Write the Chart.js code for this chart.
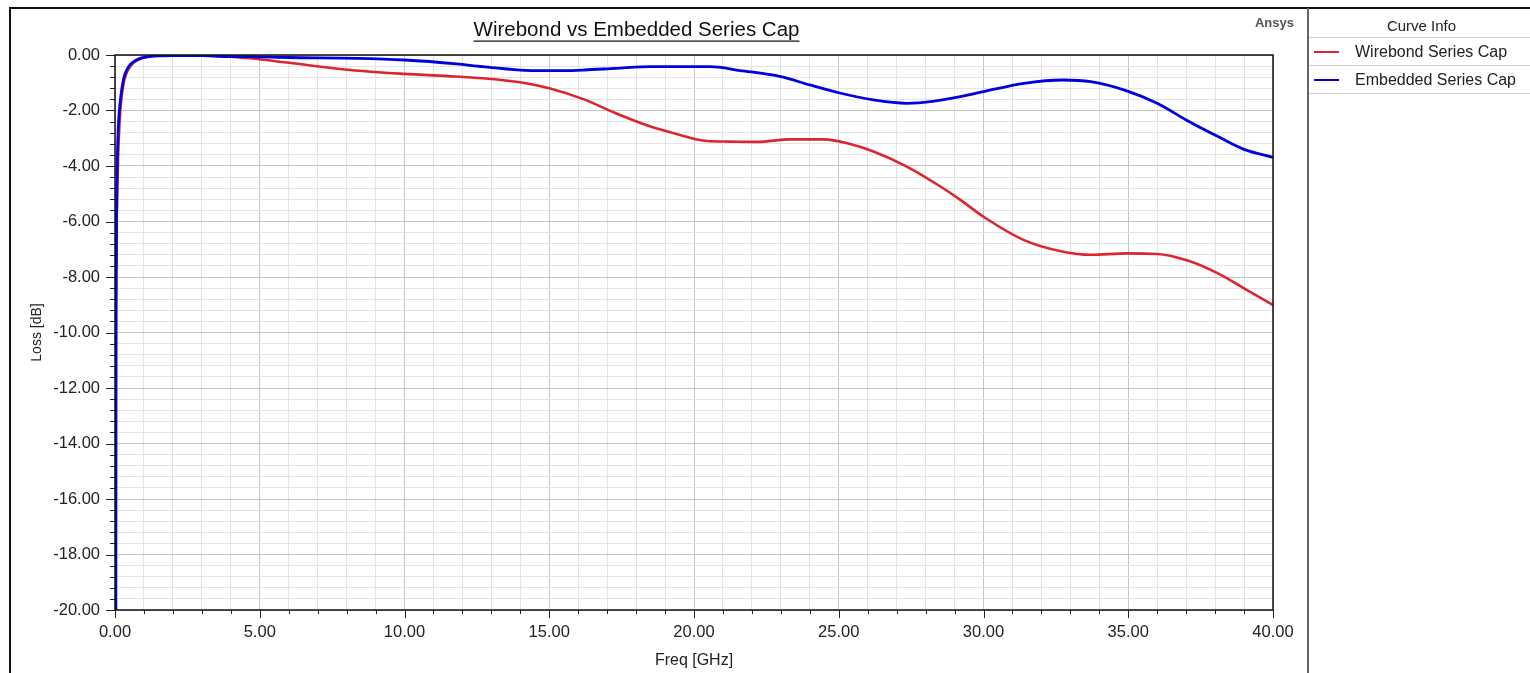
<!DOCTYPE html>
<html>
<head>
<meta charset="utf-8">
<script src="https://cdn.jsdelivr.net/npm/chart.js@4.4.1/dist/chart.umd.min.js"></script>
<style>
  html,body{margin:0;padding:0;background:#fff;width:1530px;height:673px;overflow:hidden;font-family:"Liberation Sans",Arial,sans-serif;}
  #wrap{position:absolute;left:0;top:0;width:1308px;height:673px;}
  #frame{position:absolute;left:9px;top:7px;width:1521px;height:670px;border-top:2px solid #111;border-left:2px solid #111;box-sizing:border-box;}
  #legend{position:absolute;left:1307px;top:8px;width:223px;height:665px;border-left:2px solid #666;box-sizing:border-box;}
  .hdr{position:absolute;left:0;top:9px;width:225px;text-align:center;font-size:15px;color:#222;}
  .sep{position:absolute;left:0;width:223px;height:1px;background:#d0d0d0;}
  .sw{position:absolute;left:5px;width:25px;height:2px;}
  .lt{position:absolute;left:46px;font-size:16px;color:#222;white-space:nowrap;}
  #ansys{position:absolute;left:1230px;top:15px;width:64px;text-align:right;font-weight:bold;font-size:13px;color:#555;}
</style>
</head>
<body>
<div id="wrap"><canvas id="c" width="1308" height="673"></canvas></div>
<div id="frame"></div>
<div id="ansys">Ansys</div>
<div id="legend">
  <div class="hdr">Curve Info</div>
  <div class="sep" style="top:29px"></div>
  <div class="sw" style="top:43px;background:#dd2530"></div>
  <div class="lt" style="top:35px">Wirebond Series Cap</div>
  <div class="sep" style="top:57px"></div>
  <div class="sw" style="top:71px;background:#0000e0"></div>
  <div class="lt" style="top:63px">Embedded Series Cap</div>
  <div class="sep" style="top:85px"></div>
</div>
<script>
const chartTitle = "Wirebond vs Embedded Series Cap";
const xAxisTitle = "Freq [GHz]";
const yAxisTitle = "Loss [dB]";
const seriesNames = ["Wirebond Series Cap", "Embedded Series Cap"];

const freqWirebond = [0.04,0.06,0.08,0.11,0.15,0.2,0.3,0.4,0.5,0.62,0.8,1.1,1.5,2,3,4,4.66,6,8.12,10,11.5,12.7,14.1,15,16.2,17.3,18.5,19.3,20.45,21.2,22.2,23.3,24.5,25.3,26.2,27.35,28.5,29.2,30,31.4,32.75,33.7,34.95,36,37,38.1,39,40];
const lossWirebond = [-7.7,-5.8,-4.8,-3.6,-2.6,-1.8,-1.0,-0.65,-0.45,-0.3,-0.17,-0.07,-0.01,0,-0.01,-0.06,-0.12,-0.28,-0.54,-0.68,-0.76,-0.84,-1.0,-1.2,-1.6,-2.1,-2.58,-2.82,-3.1,-3.12,-3.13,-3.04,-3.04,-3.18,-3.48,-4.02,-4.73,-5.22,-5.83,-6.67,-7.09,-7.2,-7.15,-7.17,-7.39,-7.87,-8.41,-9.01];

const freqEmbedded = [0.03,0.035,0.04,0.055,0.08,0.11,0.15,0.2,0.3,0.4,0.5,0.62,0.8,1.1,1.5,2,3,3.5,4.66,6,8.35,10,11.8,12.7,14.4,15.5,16.2,17.3,18.5,19.5,20.55,21.6,23,24,25,26.2,27.35,28.3,29.2,30,31.4,32.75,33.7,34.95,36,37,38.1,39,40];
const lossEmbedded = [-20,-13,-9.5,-6,-3.8,-2.7,-2.0,-1.5,-0.85,-0.55,-0.38,-0.26,-0.15,-0.07,-0.03,-0.02,-0.02,-0.05,-0.06,-0.09,-0.12,-0.18,-0.32,-0.42,-0.56,-0.56,-0.54,-0.48,-0.42,-0.42,-0.42,-0.56,-0.78,-1.08,-1.36,-1.62,-1.74,-1.66,-1.5,-1.32,-1.02,-0.9,-0.96,-1.29,-1.74,-2.34,-2.94,-3.4,-3.69];

const xMin = 0, xMax = 40, xMinorStep = 1, xMajorStep = 5;
const yMin = -20, yMax = 0, yMinorStep = 0.4, yMajorStep = 2;

function pts(xs, ys){ return xs.map((x,i)=>({x:x, y:ys[i]})); }
function isMajor(v, step){ const r = v/step; return Math.abs(r-Math.round(r)) < 1e-6; }

const FONT = "'Liberation Sans', Arial, sans-serif";
const TITLE_SIZE = 20.5;

const framePlugin = {
  id:'framePlugin',
  afterDraw(chart){
    const ctx = chart.ctx, a = chart.chartArea;
    const xs = chart.scales.x, ys = chart.scales.y;
    ctx.save();
    ctx.strokeStyle = '#222'; ctx.lineWidth = 1;
    ctx.beginPath();
    ys.ticks.forEach(t=>{
      const p = Math.round(ys.getPixelForValue(t.value))+0.5;
      const len = isMajor(t.value, yMajorStep) ? 9 : 5;
      ctx.moveTo(a.left, p); ctx.lineTo(a.left-len, p);
    });
    xs.ticks.forEach(t=>{
      const p = Math.round(xs.getPixelForValue(t.value))+0.5;
      const len = isMajor(t.value, xMajorStep) ? 8 : 4;
      ctx.moveTo(p, a.bottom); ctx.lineTo(p, a.bottom+len);
    });
    ctx.stroke();
    ctx.strokeStyle = '#111'; ctx.lineWidth = 1.5;
    ctx.strokeRect(a.left, a.top, a.right-a.left, a.bottom-a.top);
    const tb = chart.titleBlock;
    if (tb) {
      ctx.font = TITLE_SIZE + "px " + FONT;
      const w = ctx.measureText(chartTitle).width;
      const cx = (tb.left + tb.right)/2;
      const y = tb.top + tb.options.padding.top + TITLE_SIZE*1.13;
      ctx.strokeStyle = '#111'; ctx.lineWidth = 1.4;
      ctx.beginPath(); ctx.moveTo(cx-w/2, y); ctx.lineTo(cx+w/2, y); ctx.stroke();
    }
    ctx.restore();
  }
};

new Chart(document.getElementById('c'), {
  type:'line',
  data:{
    datasets:[
      {label:seriesNames[0], data:pts(freqWirebond, lossWirebond), borderColor:'#dd2530', borderWidth:2.6, pointRadius:0, cubicInterpolationMode:'monotone', order:2},
      {label:seriesNames[1], data:pts(freqEmbedded, lossEmbedded), borderColor:'#0000e0', borderWidth:2.8, pointRadius:0, cubicInterpolationMode:'monotone', order:1}
    ]
  },
  options:{
    responsive:false,
    animation:false,
    events:[],
    layout:{padding:{left:0, right:35, top:0, bottom:0}},
    plugins:{
      legend:{display:false},
      tooltip:{enabled:false},
      title:{display:true, text:chartTitle, color:'#111', font:{family:FONT, size:TITLE_SIZE, weight:'normal', lineHeight:1.2}, padding:{top:18, bottom:12.4}}
    },
    scales:{
      x:{
        type:'linear', min:xMin, max:xMax,
        afterFit(s){ s.height = 63; },
        ticks:{stepSize:xMinorStep, autoSkip:false, maxRotation:0, padding:13, color:'#222', font:{family:FONT, size:16.5},
          callback:(v)=> isMajor(v, xMajorStep) ? v.toFixed(2) : ''},
        grid:{drawTicks:false, color:(c)=> (c.tick && isMajor(c.tick.value, xMajorStep)) ? '#c6c6c6' : '#e4e4e4', lineWidth:1},
        border:{display:false},
        title:{display:true, text:xAxisTitle, color:'#222', font:{family:FONT, size:16, lineHeight:1.2}, padding:{top:0, bottom:3}}
      },
      y:{
        type:'linear', min:yMin, max:yMax,
        afterFit(s){ s.width = 115; },
        ticks:{stepSize:yMinorStep, autoSkip:false, padding:15, color:'#222', font:{family:FONT, size:16.5},
          callback:(v)=> isMajor(v, yMajorStep) ? v.toFixed(2) : ''},
        grid:{drawTicks:false, color:(c)=> (c.tick && isMajor(c.tick.value, yMajorStep)) ? '#c6c6c6' : '#e4e4e4', lineWidth:1},
        border:{display:false},
        title:{display:true, text:yAxisTitle, color:'#222', font:{family:FONT, size:14, lineHeight:1.2}, padding:{top:28.6, bottom:0}}
      }
    }
  },
  plugins:[framePlugin]
});
</script>
</body>
</html>
